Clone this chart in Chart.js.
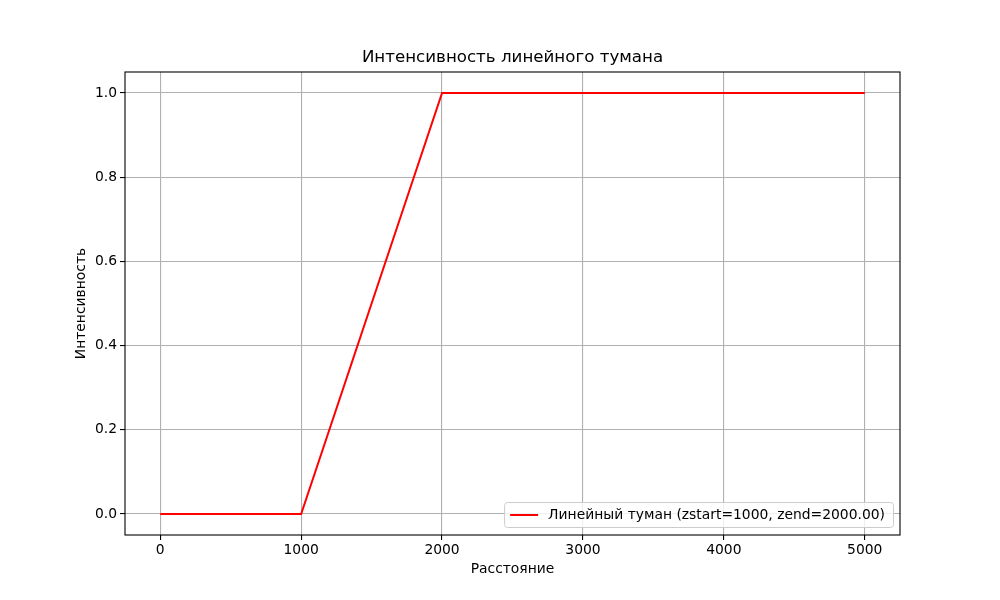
<!DOCTYPE html>
<html>
<head>
<meta charset="utf-8">
<script src="https://cdn.jsdelivr.net/npm/chart.js@4"></script>
<style>
html,body{margin:0;padding:0;background:#fff;}
#wrap{width:1000px;height:600px;position:relative;}
</style>
</head>
<body>
<div id="wrap"><canvas id="c" width="1000" height="600"></canvas></div>
<script>
const distances = [0, 1000, 2000, 5000];
const intensity = [0, 0, 1, 1];
const xTicks = [0, 1000, 2000, 3000, 4000, 5000];
const yTicks = [0.0, 0.2, 0.4, 0.6, 0.8, 1.0];
const titleText = 'Интенсивность линейного тумана';
const xLabel = 'Расстояние';
const yLabel = 'Интенсивность';
const seriesLabel = 'Линейный туман (zstart=1000, zend=2000.00)';

const FONT = '"DejaVu Sans", sans-serif';
const FS = 13.89;

const decor = {
  id: 'decor',
  afterDraw(chart) {
    const ctx = chart.ctx;
    const a = chart.chartArea;
    ctx.save();
    // frame
    ctx.strokeStyle = '#000';
    ctx.lineWidth = 1.1;
    ctx.strokeRect(a.left, a.top, a.right - a.left, a.bottom - a.top);
    // title
    ctx.fillStyle = '#000';
    ctx.font = '16.67px ' + FONT;
    ctx.textAlign = 'center';
    ctx.textBaseline = 'middle';
    const cx = (a.left + a.right) / 2;
    ctx.fillText(titleText, cx, 58);
    // axis labels
    ctx.font = FS + 'px ' + FONT;
    ctx.fillText(xLabel, cx, 569);
    ctx.save();
    ctx.translate(81, (a.top + a.bottom) / 2);
    ctx.rotate(-Math.PI / 2);
    ctx.fillText(yLabel, 0, 0);
    ctx.restore();
    // legend
    ctx.font = FS + 'px ' + FONT;
    const tw = ctx.measureText(seriesLabel).width;
    const bw = 6 + 28 + 10 + tw + 8;
    const bh = 25;
    const bx = a.right - 7 - bw;
    const by = a.bottom - 8 - bh;
    ctx.fillStyle = 'rgba(255,255,255,0.8)';
    ctx.strokeStyle = '#cccccc';
    ctx.lineWidth = 1;
    ctx.beginPath();
    ctx.roundRect(bx + 0.5, by + 0.5, bw, bh, 3);
    ctx.fill();
    ctx.stroke();
    const my = by + bh / 2 + 0.5;
    ctx.strokeStyle = '#ff0000';
    ctx.lineWidth = 2;
    ctx.beginPath();
    ctx.moveTo(bx + 6, my);
    ctx.lineTo(bx + 34, my);
    ctx.stroke();
    ctx.fillStyle = '#000';
    ctx.textAlign = 'left';
    ctx.fillText(seriesLabel, bx + 44, my);
    ctx.restore();
  }
};

new Chart(document.getElementById('c'), {
  type: 'line',
  data: {
    datasets: [{
      label: seriesLabel,
      data: distances.map((d, i) => ({x: d, y: intensity[i]})),
      borderColor: '#ff0000',
      borderWidth: 2,
      pointRadius: 0,
      tension: 0,
      fill: false
    }]
  },
  options: {
    responsive: false,
    animation: false,
    events: [],
    layout: {padding: {left: 0, right: 100, top: 72, bottom: 0}},
    plugins: {legend: {display: false}, title: {display: false}, tooltip: {enabled: false}},
    scales: {
      x: {
        type: 'linear',
        min: -250, max: 5250,
        afterFit(s) { s.height = 65; },
        afterBuildTicks(s) { s.ticks = xTicks.map(v => ({value: v})); },
        grid: {color: '#b0b0b0', lineWidth: 1.1, tickColor: '#000', tickLength: 5, drawTicks: true},
        border: {display: false},
        ticks: {color: '#000', font: {family: FONT, size: FS}, padding: 2, maxRotation: 0,
          callback: v => String(v)}
      },
      y: {
        type: 'linear',
        min: -0.05, max: 1.05,
        afterFit(s) { s.width = 125; },
        afterBuildTicks(s) { s.ticks = yTicks.map(v => ({value: v})); },
        grid: {color: '#b0b0b0', lineWidth: 1.1, tickColor: '#000', tickLength: 5, drawTicks: true},
        border: {display: false},
        ticks: {color: '#000', font: {family: FONT, size: FS}, padding: 3,
          callback: v => Number(v).toFixed(1)}
      }
    }
  },
  plugins: [decor]
});
</script>
</body>
</html>
